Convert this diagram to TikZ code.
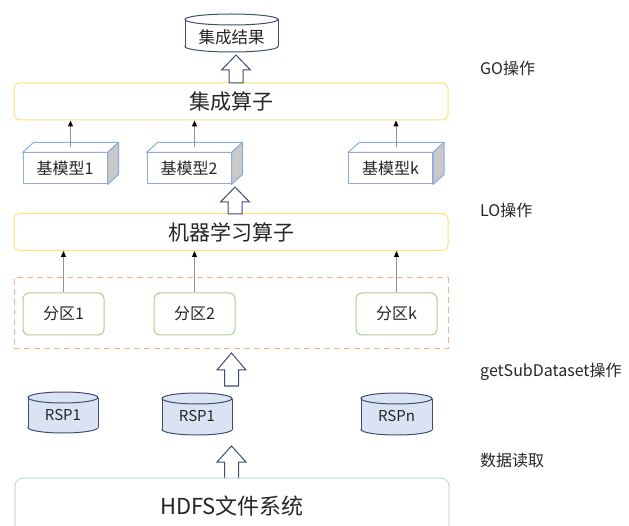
\documentclass[tikz,border=0pt]{standalone}
\usepackage{fontspec}
\setmainfont{Noto Sans CJK SC}
\usetikzlibrary{arrows.meta,calc}
\definecolor{txt}{HTML}{262626}
\definecolor{yel}{HTML}{FFE07A}
\definecolor{grn}{HTML}{A9D18E}
\definecolor{org}{HTML}{F4B183}
\definecolor{cubeb}{HTML}{8FAADC}
\definecolor{cubes}{HTML}{C9C9C9}
\definecolor{hdfs}{HTML}{BDD7EE}
\definecolor{navy}{HTML}{3E4E6E}
\definecolor{rspf}{HTML}{DAE3F3}
\newcommand\fs[1]{\fontsize{#1}{#1}\selectfont}
\tikzset{
  opbox/.style={draw=yel, line width=1pt, fill=white, rounded corners=6pt,
    minimum width=434pt, minimum height=37pt, font=\fs{21}, text=txt, inner sep=0pt},
  partbox/.style={draw=grn, line width=1pt, fill=white, rounded corners=6pt,
    minimum width=81pt, minimum height=42pt, font=\fs{16}, text=txt, inner sep=0pt},
  cubefront/.style={draw=cubeb, line width=1pt, fill=white,
    minimum width=84pt, minimum height=31pt, font=\fs{16}, text=txt, inner sep=0pt},
  cubeline/.style={draw=cubeb, line width=1pt, line join=round},
  harrow/.style={draw=navy, line width=1pt, fill=white, line join=miter},
  thin arrow/.style={draw=gray!85, line width=1pt,
    -{Triangle[length=6pt,width=5pt,color=black]}},
  sidelabel/.style={anchor=west, font=\fs{16}, text=txt, inner sep=0pt},
  cyltext/.style={font=\fs{15}, text=txt, inner sep=0pt},
}
\newcommand\hollowarrow[4]{% x, ybottom, ytip, head length
  \draw[harrow] (#1-7,#2) -- (#1+7,#2) -- (#1+7,#3+#4) -- (#1+14.5,#3+#4) -- (#1,#3)
    -- (#1-14.5,#3+#4) -- (#1-7,#3+#4) -- cycle;}
\newcommand\cyl[7]{% cx, ytop, ybot, halfwidth, ry, fill, name/text
  \fill[#6] (#1,#3-#5) ellipse [x radius=#4pt, y radius=#5pt];
  \draw[navy, line width=1pt] (#1,#3-#5) ellipse [x radius=#4pt, y radius=#5pt];
  \fill[#6] (#1-#4,#2+#5) rectangle (#1+#4,#3-#5);
  \draw[navy, line width=1pt] (#1-#4,#2+#5) -- (#1-#4,#3-#5) (#1+#4,#2+#5) -- (#1+#4,#3-#5);
  \draw[navy, line width=1pt, fill=#6] (#1,#2+#5) ellipse [x radius=#4pt, y radius=#5pt];
}
\newcommand\cube[4]{% name, cx, cy, text
  \node[cubefront] (#1) at (#2,#3) {#4};
  \draw[cubeline, fill=white] (#1.north west) -- ++(11,-10) -- ($(#1.north east)+(11,-10)$) -- (#1.north east) -- cycle;
  \draw[cubeline, fill=cubes] (#1.north east) -- ++(11,-10) -- ($(#1.south east)+(11,-10)$) -- (#1.south east) -- cycle;
  \coordinate (#1t) at ($(#1.north)+(5.5,-5)$);
}
\begin{document}
\begin{tikzpicture}[x=1pt,y=-1pt]
\useasboundingbox (0,0) rectangle (629,526);
% result cylinder
\cyl{231.5}{14}{52}{46.5}{5.5}{white}{res}
\node[font=\fs{16.5}, text=txt, inner sep=0pt] (res) at (231.5,37) {集成结果};
% ensemble operator
\node[opbox] (ens) at (231,101.5) {集成算子};
\hollowarrow{236}{83}{55}{15}
% base models
\cube{c1}{65}{168.5}{基模型1}
\cube{c2}{189}{168.5}{基模型2}
\cube{ck}{390.5}{168.5}{基模型k}
\draw[thin arrow] (c1t) -- (c1t |- ens.south);
\draw[thin arrow] (c2t) -- (c2t |- ens.south);
\draw[thin arrow] (ckt) -- (ckt |- ens.south);
% ML operator
\node[opbox] (ml) at (231,232) {机器学习算子};
\hollowarrow{235}{214}{187}{15}
% partitions
\node[draw=org, line width=1pt, dash pattern=on 6pt off 4pt, minimum width=434pt,
  minimum height=71pt, inner sep=0pt] (parts) at (231,313.5) {};
\node[partbox] (p1) at (63.5,314) {分区1};
\node[partbox] (p2) at (194.5,314) {分区2};
\node[partbox] (pk) at (396.5,314) {分区k};
\draw[thin arrow] (p1.north) -- (p1.north |- ml.south);
\draw[thin arrow] (p2.north) -- (p2.north |- ml.south);
\draw[thin arrow] (pk.north) -- (pk.north |- ml.south);
\hollowarrow{231.5}{386}{353}{17}
% RSP cylinders
\cyl{63}{392}{433}{35}{5.5}{rspf}{r1}
\node[cyltext] (r1) at (63,415) {RSP1};
\cyl{197}{393}{435}{35}{5.5}{rspf}{r2}
\node[cyltext] (r2) at (197,416) {RSP1};
\cyl{396.5}{393}{435}{35.5}{5.5}{rspf}{rn}
\node[cyltext] (rn) at (396.5,416) {RSPn};
\hollowarrow{231.5}{479}{446}{16}
% HDFS
\node[draw=hdfs, line width=1pt, fill=white, rounded corners=8pt, minimum width=434pt,
  minimum height=62pt, font=\fs{22}, text=txt, inner sep=0pt] (hdfs) at (232,509) {};
\node[font=\fs{22}, text=txt, inner sep=0pt] (hdfst) at (232,506) {HDFS文件系统};
% side labels
\node[sidelabel] (go) at (480,68) {GO操作};
\node[sidelabel] (lo) at (480,210) {LO操作};
\node[sidelabel] (gs) at (480,372) {getSubDataset操作};
\node[sidelabel] (dr) at (480,460) {数据读取};
\end{tikzpicture}
\end{document}
